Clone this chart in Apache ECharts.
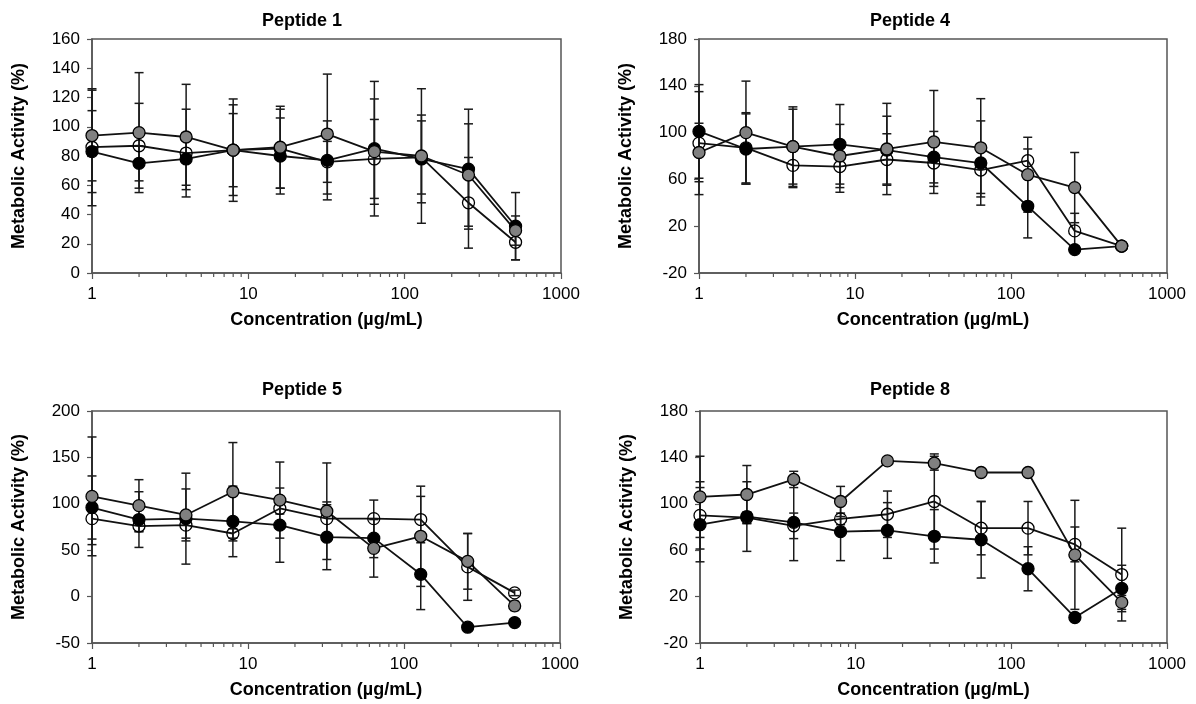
<!DOCTYPE html>
<html>
<head>
<meta charset="utf-8">
<script src="https://cdn.jsdelivr.net/npm/echarts@6/dist/echarts.min.js"></script>
<style>
  html, body { margin: 0; padding: 0; background: #fff; }
  #chart { width: 1196px; height: 704px; }
</style>
</head>
<body>
<div id="chart"></div>
<script>
// concentrations (µg/mL)
const conc = [1, 2, 4, 8, 16, 32, 64, 128, 256, 512];
const minorX = [2, 3, 4, 5, 6, 7, 8, 9, 20, 30, 40, 50, 60, 70, 80, 90, 200, 300, 400, 500, 600, 700, 800, 900];
const titles = ['Peptide 1', 'Peptide 4', 'Peptide 5', 'Peptide 8'];

// Peptide 1
const p1Black = [83, 75, 78, 84, 80, 77, 85, 78, 71, 32];
const p1BlackErr = [28, 12, 18, 35, 26, 27, 46, 30, 41, 23];
const p1White = [86, 87, 82, 84, 85, 76, 78, 79, 48, 21];
const p1WhiteErr = [40, 29, 30, 31, 27, 14, 27, 25, 31, 12];
const p1Grey = [94, 96, 93, 84, 86, 95, 83, 80, 67, 29];
const p1GreyErr = [31, 41, 36, 25, 28, 41, 36, 46, 35, 10];

// Peptide 4
const p4Black = [101, 86, 88, 90, 85, 79, 74, 37, 0, 3];
const p4BlackErr = [40, 30, 34, 34, 29, 22, 36, 27, 3, 2];
const p4White = [91, 87, 72, 71, 77, 74, 68, 76, 16, 3];
const p4WhiteErr = [44, 30, 19, 22, 22, 20, 20, 10, 15, 2];
const p4Grey = [83, 100, 88, 80, 86, 92, 87, 64, 53, 3];
const p4GreyErr = [25, 44, 32, 27, 39, 44, 42, 32, 30, 2];

// Peptide 5
const p5Black = [96, 83, 84, 81, 77, 64, 63, 24, -33, -28];
const p5BlackErr = [34, 30, 49, 38, 40, 35, 21, 38, 3, 4];
const p5White = [84, 76, 77, 68, 95, 84, 84, 83, 32, 4];
const p5WhiteErr = [28, 6, 14, 5, 6, 18, 20, 25, 36, 3];
const p5Grey = [108, 98, 88, 113, 104, 92, 52, 65, 38, -10];
const p5GreyErr = [64, 28, 28, 53, 41, 52, 31, 54, 30, 5];

// Peptide 8
const p8Black = [82, 89, 84, 76, 77, 72, 69, 44, 2, 27];
const p8BlackErr = [32, 30, 33, 25, 24, 23, 33, 19, 3, 20];
const p8White = [90, 88, 81, 87, 91, 102, 79, 79, 65, 39];
const p8WhiteErr = [29, 5, 11, 5, 20, 41, 23, 23, 15, 40];
const p8Grey = [106, 108, 121, 102, 137, 135, 127, 127, 56, 15];
const p8GreyErr = [35, 25, 7, 13, 3, 6, 3, 3, 47, 6];

const yMins = [0, -20, -50, -20];
const yMaxs = [160, 180, 200, 180];
const ySteps = [20, 40, 50, 40];

const panelData = [
  [p1White, p1WhiteErr, p1Black, p1BlackErr, p1Grey, p1GreyErr],
  [p4White, p4WhiteErr, p4Black, p4BlackErr, p4Grey, p4GreyErr],
  [p5White, p5WhiteErr, p5Black, p5BlackErr, p5Grey, p5GreyErr],
  [p8White, p8WhiteErr, p8Black, p8BlackErr, p8Grey, p8GreyErr]
];

const font = "'Liberation Sans', Arial, sans-serif";
const grids = [
  { left: 92, top: 39, width: 469, height: 234 },
  { left: 699, top: 39, width: 468, height: 234 },
  { left: 92, top: 411, width: 468, height: 232 },
  { left: 700, top: 411, width: 467, height: 232 }
];
const titlePos = [[297, 7], [905, 7], [297, 376], [905, 376]];
const fills = ['rgba(255,255,255,0)', '#000000', '#808080'];

function errItem (params, api) {
  const x = api.value(0);
  const y = api.value(1);
  const e = api.value(2);
  const hi = api.coord([x, y + e]);
  const lo = api.coord([x, y - e]);
  const w = 4.5;
  const st = { stroke: '#1a1a1a', lineWidth: 1.5 };
  return {
    type: 'group',
    children: [
      { type: 'line', shape: { x1: hi[0], y1: hi[1], x2: lo[0], y2: lo[1] }, style: st },
      { type: 'line', shape: { x1: hi[0] - w, y1: hi[1], x2: hi[0] + w, y2: hi[1] }, style: st },
      { type: 'line', shape: { x1: lo[0] - w, y1: lo[1], x2: lo[0] + w, y2: lo[1] }, style: st }
    ]
  };
}

function minorTick (params, api) {
  const p = api.coord([api.value(0), api.value(1)]);
  return {
    type: 'line',
    shape: { x1: p[0], y1: p[1], x2: p[0], y2: p[1] + 4 },
    style: { stroke: '#555', lineWidth: 1.2 }
  };
}

const option = {
  animation: false,
  backgroundColor: '#fff',
  title: [],
  grid: [],
  xAxis: [],
  yAxis: [],
  series: []
};

for (let i = 0; i < 4; i++) {
  option.title.push({
    text: titles[i],
    left: titlePos[i][0],
    top: titlePos[i][1],
    textAlign: 'center',
    textStyle: { fontFamily: font, fontWeight: 'bold', fontSize: 18, color: '#000' }
  });
  option.grid.push(Object.assign({ show: true, borderColor: '#555', borderWidth: 1.5, containLabel: false }, grids[i]));
  option.xAxis.push({
    gridIndex: i,
    type: 'log',
    logBase: 10,
    min: 1,
    max: 1000,
    name: 'Concentration (µg/mL)',
    nameLocation: 'middle',
    nameGap: 38,
    nameTextStyle: { fontFamily: font, fontWeight: 'bold', fontSize: 18, color: '#000' },
    axisLine: { show: true, onZero: false, lineStyle: { color: '#555', width: 1.5 } },
    axisTick: { show: true, inside: false, length: 6, lineStyle: { color: '#555', width: 1.2 } },
    axisLabel: { fontFamily: font, fontSize: 17, color: '#000', margin: 13, formatter: v => String(Math.round(v)) },
    splitLine: { show: false }
  });
  option.yAxis.push({
    gridIndex: i,
    type: 'value',
    min: yMins[i],
    max: yMaxs[i],
    interval: ySteps[i],
    name: 'Metabolic Activity (%)',
    nameLocation: 'middle',
    nameGap: 64,
    nameTextStyle: { fontFamily: font, fontWeight: 'bold', fontSize: 18, color: '#000' },
    axisLine: { show: true, lineStyle: { color: '#555', width: 1.5 } },
    axisTick: { show: true, inside: false, length: 5, lineStyle: { color: '#555', width: 1.2 } },
    axisLabel: { fontFamily: font, fontSize: 17, color: '#000', margin: 12 },
    splitLine: { show: false }
  });

  // minor log ticks along the bottom axis
  option.series.push({
    type: 'custom',
    xAxisIndex: i,
    yAxisIndex: i,
    clip: false,
    silent: true,
    z: 1,
    renderItem: minorTick,
    encode: { x: 0, y: 1 },
    data: minorX.map(v => [v, yMins[i]])
  });

  const d = panelData[i];
  // error bars behind the markers
  for (let s = 0; s < 3; s++) {
    const vals = d[s * 2];
    const errs = d[s * 2 + 1];
    option.series.push({
      type: 'custom',
      xAxisIndex: i,
      yAxisIndex: i,
      clip: false,
      silent: true,
      z: 2,
      renderItem: errItem,
      encode: { x: 0, y: 1 },
      data: conc.map((c, k) => [c, vals[k], errs[k]])
    });
  }
  for (let s = 0; s < 3; s++) {
    const vals = d[s * 2];
    option.series.push({
      type: 'line',
      xAxisIndex: i,
      yAxisIndex: i,
      z: 3,
      symbol: 'circle',
      symbolSize: 12,
      showSymbol: true,
      lineStyle: { color: '#111', width: 1.8 },
      itemStyle: { color: fills[s], borderColor: '#000', borderWidth: 1.3 },
      emphasis: { disabled: true },
      data: conc.map((c, k) => [c, vals[k]])
    });
  }
}

const chart = echarts.init(document.getElementById('chart'));
chart.setOption(option);
</script>
</body>
</html>
